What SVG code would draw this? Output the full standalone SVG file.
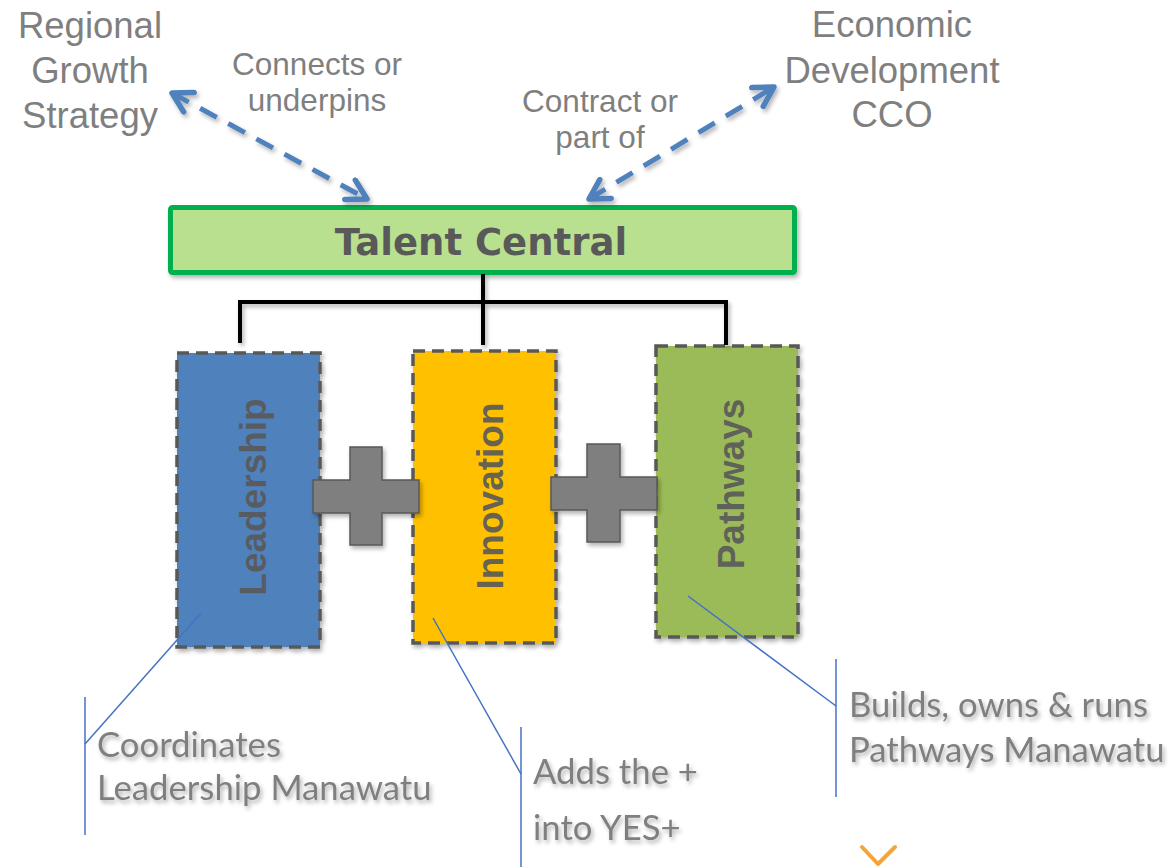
<svg xmlns="http://www.w3.org/2000/svg" width="1168" height="867" viewBox="0 0 1168 867">
<style>
.big{font-family:"Liberation Sans",Arial,sans-serif;font-size:36.5px;fill:#7F7F7F;text-anchor:middle}
.lbl{font-family:"Liberation Sans",Arial,sans-serif;font-size:31.5px;fill:#7F7F7F;text-anchor:middle}
.title{font-family:"DejaVu Sans",Verdana,sans-serif;font-weight:bold;font-size:37px;fill:#595959;text-anchor:middle}
.vt{font-family:"Liberation Sans",Arial,sans-serif;font-weight:bold;font-size:37px;fill:#595959;fill-opacity:0.92;text-anchor:middle}
.note{font-family:Lato,"Open Sans",sans-serif;font-size:34.7px;fill:#7F7F7F}
.box{stroke:#595959;stroke-width:3.5;stroke-dasharray:12 7}
.plus{fill:#7F7F7F;stroke:#595959;stroke-width:1.5}
.dash{fill:none;stroke:#4F81BD;stroke-width:5;stroke-dasharray:19 13}
.tree{fill:none;stroke:#000;stroke-width:4}
.call{fill:none;stroke:#4472C4;stroke-width:1.5}
</style>
<defs>
<filter id="sh" x="-20%" y="-20%" width="140%" height="140%">
<feDropShadow dx="2" dy="3" stdDeviation="2" flood-color="#000" flood-opacity="0.3"/>
</filter>
<marker id="ah" viewBox="0 0 10 10" refX="8.5" refY="5" markerWidth="5.5" markerHeight="5.5" orient="auto-start-reverse">
<path d="M1.5,1 L8.5,5 L1.5,9" fill="none" stroke="#4F81BD" stroke-width="2" stroke-linecap="round" stroke-linejoin="round"/>
</marker>
</defs>
<rect width="1168" height="867" fill="#fff"/>

<g id="regional-growth-strategy">
<text class="big" x="90" y="38">Regional</text>
<text class="big" x="90" y="83">Growth</text>
<text class="big" x="90" y="128">Strategy</text>
</g>
<g id="economic-development-cco">
<text class="big" x="892" y="37">Economic</text>
<text class="big" x="892" y="83">Development</text>
<text class="big" x="892" y="127">CCO</text>
</g>

<g id="talent-central">
<rect x="170.5" y="207.5" width="624" height="65" rx="2" fill="#B9E08F" stroke="#00B050" stroke-width="5" filter="url(#sh)"/>
<text class="title" x="481" y="255">Talent Central</text>
</g>

<g id="leadership">
<rect class="box" x="177" y="353" width="143" height="294" fill="#4F81BD" filter="url(#sh)"/>
<text class="vt" transform="translate(266,497) rotate(-90)">Leadership</text>
</g>
<g id="innovation">
<rect class="box" x="413" y="351" width="143" height="292" fill="#FFC000" filter="url(#sh)"/>
<text class="vt" transform="translate(503,496) rotate(-90)">Innovation</text>
</g>
<g id="pathways">
<rect class="box" x="656" y="346" width="142" height="291" fill="#9BBB59" filter="url(#sh)"/>
<text class="vt" transform="translate(744,484) rotate(-90)">Pathways</text>
</g>

<g id="plus-1">
<polygon class="plus" filter="url(#sh)" points="350,447 382,447 382,480 419,480 419,513 382,513 382,545 350,545 350,513 313,513 313,480 350,480"/>
</g>
<g id="plus-2">
<polygon class="plus" filter="url(#sh)" points="587,444 620,444 620,477 657,477 657,510 620,510 620,542 587,542 587,510 551,510 551,477 587,477"/>
</g>

<g id="connectors">
<g filter="url(#sh)">
<line class="dash" x1="172" y1="93" x2="367" y2="199" marker-start="url(#ah)" marker-end="url(#ah)"/>
<line class="dash" x1="589" y1="199" x2="774" y2="87" marker-start="url(#ah)" marker-end="url(#ah)"/>
</g>
<text class="lbl" x="317" y="75">Connects or</text>
<text class="lbl" x="317" y="111">underpins</text>
<text class="lbl" x="600" y="112">Contract or</text>
<text class="lbl" x="600" y="148">part of</text>
<g filter="url(#sh)">
<line class="tree" x1="483" y1="274" x2="483" y2="345"/>
<polyline class="tree" points="240,343 240,302 726,302 726,345"/>
</g>
<g>
<polyline class="call" points="85,697 85,835"/>
<line class="call" x1="85" y1="744" x2="201" y2="613"/>
<polyline class="call" points="521,727 521,867"/>
<line class="call" x1="521" y1="774" x2="433" y2="618"/>
<polyline class="call" points="836,659 836,797"/>
<line class="call" x1="836" y1="706" x2="688" y2="596"/>
</g>
</g>

<g id="note-leadership" filter="url(#sh)">
<text class="note" x="97" y="757">Coordinates</text>
<text class="note" x="97" y="800">Leadership Manawatu</text>
</g>
<g id="note-innovation" filter="url(#sh)">
<text class="note" x="533" y="784">Adds the +</text>
<text class="note" x="533" y="840">into YES+</text>
</g>
<g id="note-pathways" filter="url(#sh)">
<text class="note" x="849" y="717">Builds, owns &amp; runs</text>
<text class="note" x="849" y="762">Pathways Manawatu</text>
</g>

<g id="chevron">
<polyline points="862,847 878,864 895,847" fill="none" stroke="#F4A536" stroke-width="4" stroke-linecap="round" stroke-linejoin="round"/>
</g>
</svg>
